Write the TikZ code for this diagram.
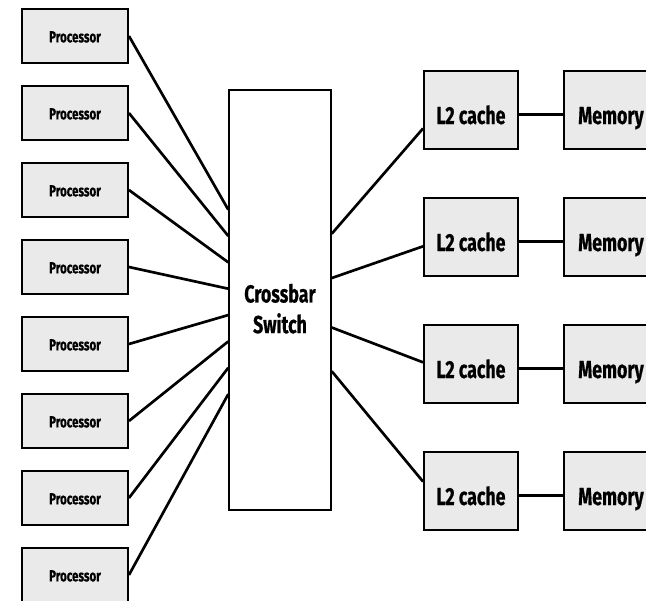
\documentclass[tikz,border=0pt]{standalone}
\usepackage{fontspec}
\setsansfont[FakeStretch=0.72, BoldFeatures={FakeBold=0.6}]{Fira Sans}
\definecolor{boxgray}{RGB}{234,234,234}

\begin{document}
\begin{tikzpicture}[x=0.75pt,y=-0.75pt,
    unit/.style={draw, line width=1.4pt, fill=boxgray, inner sep=0pt,
      text height=21pt, text depth=0pt,
      font=\sffamily\bfseries\fontsize{18.5}{21}\selectfont},
    cpu/.style={unit, minimum width=79.5pt, minimum height=40.5pt,
      text height=9.5pt, font=\sffamily\bfseries\fontsize{12}{14}\selectfont},
    cache/.style={unit, minimum width=70.5pt, minimum height=58.5pt},
    link/.style={line width=2pt}]
  \useasboundingbox (0,0) rectangle (646,600);
  \clip (0,0) rectangle (646,600);

  % crossbar in the middle
  \node[draw, line width=1.1pt, fill=white, minimum width=76.5pt, minimum height=315pt,
        label={[align=center, yshift=-6.5pt, font=\sffamily\bfseries\fontsize{18.5}{23}\selectfont]center:Crossbar\\Switch}]
        (xbar) at (280,300) {};

  % processors on the left
  \foreach \i in {1,...,8}{
    \node[cpu] (p\i) at (75,{36+77*(\i-1)}) {Processor};
    \draw[link] (p\i.east) -- (xbar);
  }

  % caches and memories on the right
  \foreach \i in {1,...,4}{
    \node[cache] (l2\i) at (471,{110+127*(\i-1)}) {L2 cache};
    \node[cache] (mem\i) at (611,{110+127*(\i-1)}) {Memory};
    \draw[link] (l2\i.355) -- (mem\i.185);
  }
  \foreach \i/\a/\b in {1/52/201, 2/23/191, 3/332/178, 4/306/169}
    \draw[link] (xbar.\a) -- (l2\i.\b);
\end{tikzpicture}
\end{document}
